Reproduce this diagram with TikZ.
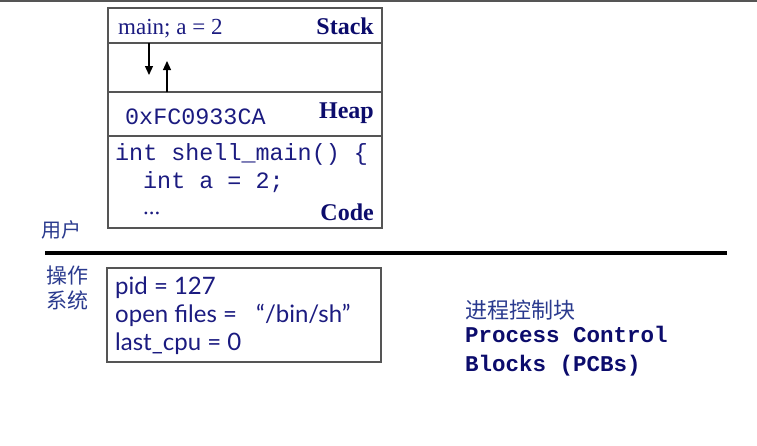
\documentclass[tikz,border=0pt]{standalone}
\usepackage{fontspec}
\setmainfont{Liberation Serif}
\newfontfamily\monof{Liberation Mono}
\newfontfamily\sansf{Lato}
\newfontfamily\cjk{Noto Sans CJK SC}
\usetikzlibrary{positioning,arrows.meta}
\definecolor{ink}{HTML}{1B1B80}
\definecolor{inkbold}{HTML}{0C0C6C}
\definecolor{cjkink}{HTML}{2A3A8E}
\definecolor{frame}{HTML}{555555}
\begin{document}
\begin{tikzpicture}[x=1pt, y=-1pt,
  row/.style={draw=frame, line width=1.4pt, rectangle, minimum width=274pt, inner sep=0pt, outer sep=0pt},
  serif/.style={text=ink, font=\fontsize{23}{25}\selectfont, anchor=base west, inner sep=0pt},
  tag/.style={text=inkbold, font=\fontsize{24}{26}\selectfont\bfseries, anchor=base east, inner sep=0pt},
  mono/.style={text=ink, font=\monof\fontsize{23.4}{26}\selectfont, anchor=base west, inner sep=0pt},
  pcbtxt/.style={text=ink, font=\sansf\fontsize{24}{28}\selectfont, anchor=base west, inner sep=0pt},
  cn/.style={text=cjkink, font=\cjk\fontsize{20}{22}\selectfont, anchor=base west, inner sep=0pt},
  pcbmono/.style={text=inkbold, font=\monof\fontsize{22.5}{26}\selectfont\bfseries, anchor=base west, inner sep=0pt},
  ptr/.style={-{Triangle[length=9pt,width=8pt]}, line width=1.2pt, black}]
\useasboundingbox[fill=white] (0,0) rectangle (757,445);
% bord du haut
\draw[frame, line width=2pt] (0,1) -- (757,1);
% Memoire du processus
\node[row, minimum height=35pt, anchor=north west] (stack) at (108,8) {};
\node[row, minimum height=49pt, below=0pt of stack] (gap) {};
\node[row, minimum height=44pt, below=0pt of gap] (heap) {};
\node[row, minimum height=92pt, below=0pt of heap] (code) {};
\node[serif] (frame) at (118,34) {main; a = 2};
\node[tag] (stacklbl) at (374,34) {Stack};
\node[mono] (addr) at (125,124) {0xFC0933CA};
\node[tag] (heaplbl) at (374,118) {Heap};
\node[mono] (line1) at (115,160) {int shell\_main() \{};
\node[mono] (line2) at (143,188) {int a = 2;};
\node[serif] (dots) at (143,214) {...};
\node[tag] (codelbl) at (374,220) {Code};
% Fleches
\coordinate (down) at (149,75);
\coordinate (up) at (167,61);
\draw[ptr] (stack.south -| down) -- (down);
\draw[ptr] (heap.north -| up) -- (up);
% Frontiere
\node[cn] (user) at (41,237) {用户};
\coordinate (sepL) at (45,253);
\coordinate (sepR) at (727,253);
\draw[black, line width=3.5pt] (sepL) -- (sepR);
\node[cn, font=\cjk\fontsize{21}{23}\selectfont] (os1) at (46,283) {操作};
\node[cn, font=\cjk\fontsize{21}{23}\selectfont] (os2) at (46,308) {系统};
% PCB
\node[row, minimum height=94pt, anchor=north west] (pcb) at (107,268) {};
\node[pcbtxt] (pid) at (115,294) {pid = 127};
\node[pcbtxt] (files) at (115,322) {open files =\hspace{0.8em}“/bin/sh”};
\node[pcbtxt] (cpu) at (115,350) {last\_cpu = 0};
\node[cn, font=\cjk\fontsize{22}{24}\selectfont] (pcbcn) at (465,318) {进程控制块};
\node[pcbmono] (pcbA) at (465,342) {Process Control};
\node[pcbmono] (pcbB) at (465,371) {Blocks (PCBs)};
\end{tikzpicture}
\end{document}
